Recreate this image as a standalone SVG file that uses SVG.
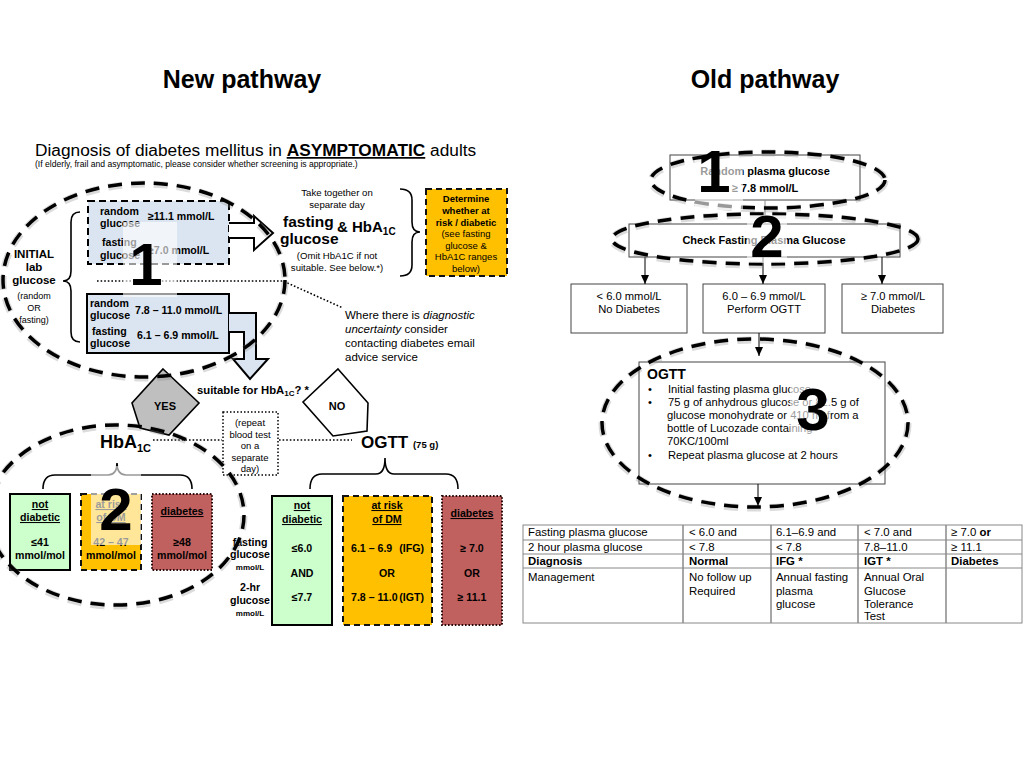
<svg xmlns="http://www.w3.org/2000/svg" width="1024" height="768" viewBox="0 0 1024 768">
<defs>
<marker id="ah" markerWidth="9" markerHeight="8" refX="9" refY="4" orient="auto" markerUnits="userSpaceOnUse"><path d="M0,0 L9,4 L0,8 z" fill="#000"/></marker>
<style>
text{font-family:"Liberation Sans",Arial,Helvetica,sans-serif;fill:#000}
.b{font-weight:bold}
.c{text-anchor:middle}
.e{text-anchor:end}
.u{text-decoration:underline}
.s{font-size:10.6px;font-weight:bold}
.blue{fill:#dbe5f1;stroke:#000;stroke-width:2}
.ring{fill:none;stroke:#000;stroke-width:3.5;stroke-dasharray:14 9}
.halo{fill:none;stroke:#888;stroke-width:7;stroke-dasharray:14 9;opacity:.3}
.dot{fill:none;stroke:#000;stroke-width:1.6;stroke-dasharray:1.6 2}
.brace{fill:none;stroke:#000;stroke-width:1.6}
.grn{fill:#ccffcc;stroke:#000;stroke-width:2}
.yel{fill:#ffc000;stroke:#111;stroke-width:2;stroke-dasharray:6 4}
.red{fill:#c0605f;stroke:#2a0a0a;stroke-width:2;stroke-dasharray:1.6 1.8}
.obox{fill:#fff;stroke:#444;stroke-width:1}
.t11{font-size:11.2px}
.big{font-size:60px;font-weight:bold;text-anchor:middle}
.veil{fill:#fff;opacity:.6}
.tb{fill:none;stroke:#888;stroke-width:1}
.tc{font-size:11.4px}
</style>
</defs>
<rect width="1024" height="768" fill="#fff"/>

<g id="title-new"><text x="242" y="88" class="b c" font-size="25">New pathway</text></g>
<g id="title-old"><text x="765" y="88" class="b c" font-size="25">Old pathway</text></g>

<g id="heading">
<text x="35" y="156" font-size="17.3">Diagnosis of diabetes mellitus in <tspan class="b u">ASYMPTOMATIC</tspan> adults</text>
<text x="35" y="167" font-size="8.6" fill="#222">(If elderly, frail and asymptomatic, please consider whether screening is appropriate.)</text>
</g>

<g id="initial-label">
<path class="brace" d="M80,212 Q71,212 71,222 V271 Q71,281 63,281 Q71,281 71,291 V332 Q71,342 80,342"/>
<text x="34" y="258" class="b c" font-size="11.5">INITIAL</text>
<text x="34" y="271" class="b c" font-size="11.5">lab</text>
<text x="34" y="284" class="b c" font-size="11.5">glucose</text>
<text x="34" y="299" class="c" font-size="9" fill="#333">(random</text>
<text x="34" y="311" class="c" font-size="9" fill="#333">OR</text>
<text x="34" y="323" class="c" font-size="9" fill="#333">fasting)</text>
</g>

<g id="box-high">
<rect x="88" y="201" width="141" height="63" class="blue" stroke-dasharray="7 4"/>
<text x="100" y="215" class="s">random</text>
<text x="100" y="227" class="s">glucose</text>
<text x="148" y="220" class="s">≥11.1 mmol/L</text>
<text x="102" y="246" class="s">fasting</text>
<text x="100" y="259" class="s">glucose</text>
<text x="148" y="254" class="s">≥7.0 mmol/L</text>
</g>

<g id="box-mid">
<rect x="87" y="294" width="142" height="59" class="blue"/>
<text x="90" y="307" class="s">random</text>
<text x="90" y="319" class="s">glucose</text>
<text x="135" y="314" class="s">7.8 – 11.0 mmol/L</text>
<text x="92" y="335" class="s">fasting</text>
<text x="90" y="347" class="s">glucose</text>
<text x="137" y="339" class="s">6.1 – 6.9 mmol/L</text>
</g>

<g id="fasting-hba1c">
<text x="337" y="196" class="c" font-size="9.6" fill="#222">Take together on</text>
<text x="337" y="208" class="c" font-size="9.6" fill="#222">separate day</text>
<text x="283" y="227" class="b" font-size="15.5">fasting</text>
<text x="337" y="232" class="b" font-size="15">&amp; HbA<tspan font-size="10" dy="3">1C</tspan></text>
<text x="280" y="244" class="b" font-size="15.5">glucose</text>
<text x="337" y="259" class="c" font-size="9.6" fill="#222">(Omit HbA1C if not</text>
<text x="337" y="271" class="c" font-size="9.6" fill="#222">suitable. See below.*)</text>
<path class="brace" d="M400,189 Q412,189 412,200 V222 Q412,232 420,232 Q412,232 412,242 V265 Q412,276 400,276"/>
</g>

<g id="determine">
<rect x="426" y="189" width="81" height="87" class="yel"/>
<text x="466" y="202" class="b c" font-size="9.5">Determine</text>
<text x="466" y="214" class="b c" font-size="9.5">whether at</text>
<text x="466" y="226" class="b c" font-size="9.5">risk / diabetic</text>
<text x="466" y="237" class="c" font-size="9.5">(see fasting</text>
<text x="466" y="249" class="c" font-size="9.5">glucose &amp;</text>
<text x="466" y="260" class="c" font-size="9.5">HbA1C ranges</text>
<text x="466" y="272" class="c" font-size="9.5">below)</text>
</g>

<g id="advice">
<text x="345" y="319" font-size="11.5" fill="#222">Where there is <tspan font-style="italic">diagnostic</tspan></text>
<text x="345" y="333" font-size="11.5" fill="#222"><tspan font-style="italic">uncertainty</tspan> consider</text>
<text x="345" y="347" font-size="11.5" fill="#222">contacting diabetes email</text>
<text x="345" y="361" font-size="11.5" fill="#222">advice service</text>
</g>

<g id="suitable"><text x="197" y="394" class="b" font-size="11.3">suitable for HbA<tspan font-size="8" dy="2">1C</tspan><tspan dy="-2">? *</tspan></text></g>

<g id="yes">
<polygon points="163,369 199,403 169,435 140,428 132,403" fill="#bfbfbf" stroke="#000" stroke-width="1.6"/>
<text x="165" y="410" class="b c" font-size="11">YES</text>
</g>
<g id="no">
<polygon points="338,369 368,403 367,431 333,436 303,402" fill="#fff" stroke="#000" stroke-width="1.6"/>
<text x="337" y="410" class="b c" font-size="11">NO</text>
</g>

<g id="repeat">
<rect x="223" y="412" width="55" height="63" fill="#fff" stroke="#000" stroke-width="1.5" stroke-dasharray="1.5 2"/>
<text x="250" y="426" class="c" font-size="9.5" fill="#222">(repeat</text>
<text x="250" y="438" class="c" font-size="9.5" fill="#222">blood test</text>
<text x="250" y="449" class="c" font-size="9.5" fill="#222">on a</text>
<text x="250" y="461" class="c" font-size="9.5" fill="#222">separate</text>
<text x="250" y="472" class="c" font-size="9.5" fill="#222">day)</text>
</g>

<g id="hba1c-head">
<text x="100" y="448" class="b" font-size="18">HbA<tspan font-size="11" dy="4">1C</tspan></text>
<path class="brace" d="M43,489 Q43,475 55,475 H108 Q117,475 117,463 Q117,475 126,475 H180 Q192,475 192,489"/>
</g>
<g id="ogtt-head">
<text x="361" y="448" class="b" font-size="17">OGTT <tspan font-size="9.5">(75 g)</tspan></text>
<path class="brace" d="M310,489 Q310,474 322,474 H376 Q385,474 385,458 Q385,474 394,474 H446 Q458,474 458,489"/>
</g>

<g id="hba1c-normal">
<rect x="10" y="494" width="60" height="76" class="grn"/>
<text x="40" y="508" class="s c u">not</text>
<text x="40" y="521" class="s c u">diabetic</text>
<text x="40" y="546" class="s c">≤41</text>
<text x="40" y="559" class="s c">mmol/mol</text>
</g>
<g id="hba1c-risk">
<rect x="81" y="494" width="60" height="76" class="yel"/>
<text x="111" y="508" class="s c u">at risk</text>
<text x="111" y="521" class="s c u">of DM</text>
<text x="111" y="546" class="s c">42 – 47</text>
<text x="111" y="559" class="s c">mmol/mol</text>
</g>
<g id="hba1c-diab">
<rect x="152" y="494" width="60" height="76" class="red"/>
<text x="182" y="515" class="s c u" fill="#2a0a0a">diabetes</text>
<text x="182" y="546" class="s c" fill="#2a0a0a">≥48</text>
<text x="182" y="559" class="s c" fill="#2a0a0a">mmol/mol</text>
</g>

<g id="ogtt-labels">
<text x="250" y="546" class="s c">fasting</text>
<text x="250" y="558" class="s c">glucose</text>
<text x="250" y="570" class="b c" font-size="8">mmol/L</text>
<text x="250" y="591" class="s c">2-hr</text>
<text x="250" y="604" class="s c">glucose</text>
<text x="250" y="616" class="b c" font-size="8">mmol/L</text>
</g>
<g id="ogtt-normal">
<rect x="272" y="496" width="60" height="129" class="grn"/>
<text x="302" y="509" class="s c u">not</text>
<text x="302" y="523" class="s c u">diabetic</text>
<text x="302" y="552" class="s c">≤6.0</text>
<text x="302" y="577" class="s c">AND</text>
<text x="302" y="601" class="s c">≤7.7</text>
</g>
<g id="ogtt-risk">
<rect x="343" y="496" width="89" height="129" class="yel"/>
<text x="387" y="509" class="s c u">at risk</text>
<text x="387" y="523" class="s c u">of DM</text>
<text x="351" y="552" class="s">6.1 – 6.9</text>
<text x="424" y="552" class="s e">(IFG)</text>
<text x="387" y="577" class="s c">OR</text>
<text x="351" y="601" class="s">7.8 – 11.0</text>
<text x="424" y="601" class="s e">(IGT)</text>
</g>
<g id="ogtt-diab">
<rect x="442" y="496" width="60" height="129" class="red"/>
<text x="472" y="517" class="s c u" fill="#2a0a0a">diabetes</text>
<text x="472" y="552" class="s c" fill="#2a0a0a">≥ 7.0</text>
<text x="472" y="577" class="s c" fill="#2a0a0a">OR</text>
<text x="472" y="601" class="s c" fill="#2a0a0a">≥ 11.1</text>
</g>

<!-- old pathway -->
<g id="random-pg">
<rect x="670" y="155" width="190" height="45" class="obox"/>
<text x="765" y="175" class="b c" font-size="11">Random plasma glucose</text>
<text x="765" y="192" class="b c" font-size="11">≥ 7.8 mmol/L</text>
</g>
<g id="check-fpg">
<rect x="629" y="224" width="271" height="33" class="obox"/>
<text x="764" y="244" class="b c" font-size="11">Check Fasting Plasma Glucose</text>
</g>
<g id="no-diab">
<rect x="571" y="284" width="116" height="49" class="obox"/>
<text x="629" y="300" class="c t11">&lt; 6.0 mmol/L</text>
<text x="629" y="313" class="c t11">No Diabetes</text>
</g>
<g id="perform-ogtt">
<rect x="703" y="284" width="122" height="49" class="obox"/>
<text x="764" y="300" class="c t11">6.0 – 6.9 mmol/L</text>
<text x="764" y="313" class="c t11">Perform OGTT</text>
</g>
<g id="diab">
<rect x="842" y="284" width="101" height="49" class="obox"/>
<text x="893" y="300" class="c t11">≥ 7.0 mmol/L</text>
<text x="893" y="313" class="c t11">Diabetes</text>
</g>
<g id="ogtt-box">
<rect x="639" y="362" width="246" height="122" class="obox"/>
<text x="647" y="379" class="b" font-size="14">OGTT</text>
<text x="648" y="393" class="t11">•</text>
<text x="668" y="393" class="t11">Initial fasting plasma glucose</text>
<text x="648" y="406" class="t11">•</text>
<text x="668" y="406" class="t11">75 g of anhydrous glucose or 82.5 g of</text>
<text x="667" y="419" class="t11">glucose monohydrate or 410 ml from a</text>
<text x="667" y="432" class="t11">bottle of Lucozade containing</text>
<text x="667" y="445" class="t11">70KC/100ml</text>
<text x="648" y="459" class="t11">•</text>
<text x="668" y="459" class="t11">Repeat plasma glucose at 2 hours</text>
</g>

<g id="table">
<rect x="523" y="525" width="499" height="98" class="tb"/>
<line x1="523" y1="540" x2="1022" y2="540" class="tb"/>
<line x1="523" y1="554" x2="1022" y2="554" class="tb"/>
<line x1="523" y1="568" x2="1022" y2="568" class="tb"/>
<line x1="683" y1="525" x2="683" y2="623" stroke="#888" stroke-width="1.5"/>
<line x1="771" y1="525" x2="771" y2="623" stroke="#888" stroke-width="1.5"/>
<line x1="858" y1="525" x2="858" y2="623" stroke="#888" stroke-width="1.5"/>
<line x1="946" y1="525" x2="946" y2="623" stroke="#888" stroke-width="1.5"/>
<text x="528" y="536" class="tc">Fasting plasma glucose</text>
<text x="689" y="536" class="tc">&lt; 6.0 and</text>
<text x="776" y="536" class="tc">6.1–6.9 and</text>
<text x="864" y="536" class="tc">&lt; 7.0 and</text>
<text x="951" y="536" class="tc">≥ 7.0 <tspan class="b">or</tspan></text>
<text x="528" y="551" class="tc">2 hour plasma glucose</text>
<text x="689" y="551" class="tc">&lt; 7.8</text>
<text x="776" y="551" class="tc">&lt; 7.8</text>
<text x="864" y="551" class="tc">7.8–11.0</text>
<text x="951" y="551" class="tc">≥ 11.1</text>
<text x="528" y="565" class="tc b">Diagnosis</text>
<text x="689" y="565" class="tc b">Normal</text>
<text x="776" y="565" class="tc b">IFG *</text>
<text x="864" y="565" class="tc b">IGT *</text>
<text x="951" y="565" class="tc b">Diabetes</text>
<text x="528" y="581" class="tc">Management</text>
<text x="689" y="581" class="tc">No follow up</text>
<text x="689" y="595" class="tc">Required</text>
<text x="776" y="581" class="tc">Annual fasting</text>
<text x="776" y="595" class="tc">plasma</text>
<text x="776" y="608" class="tc">glucose</text>
<text x="864" y="581" class="tc">Annual Oral</text>
<text x="864" y="595" class="tc">Glucose</text>
<text x="864" y="608" class="tc">Tolerance</text>
<text x="864" y="620" class="tc">Test</text>
</g>

<g id="connectors">
<path d="M229,223 H254 V216 L273,233 L254,250 V238 H229" fill="#fff" stroke="#000" stroke-width="2"/>
<path d="M229,313 H256 V359 H268 L250,379 L233,359 H244 V332 H229" fill="#dbe5f1" stroke="#000" stroke-width="2"/>
<path class="dot" d="M97,281 H283 L343,308"/>
<path class="dot" d="M153,440 H222"/>
<path class="dot" d="M279,440 H352"/>
<line x1="765" y1="200" x2="765" y2="224" stroke="#888" stroke-width="1"/>
<line x1="645" y1="257" x2="645" y2="284" stroke="#000" stroke-width="1" marker-end="url(#ah)"/>
<line x1="763" y1="257" x2="763" y2="284" stroke="#000" stroke-width="1" marker-end="url(#ah)"/>
<line x1="882" y1="257" x2="882" y2="284" stroke="#000" stroke-width="1" marker-end="url(#ah)"/>
<line x1="759" y1="333" x2="759" y2="356" stroke="#000" stroke-width="1" marker-end="url(#ah)"/>
<line x1="758" y1="484" x2="758" y2="506" stroke="#000" stroke-width="1" marker-end="url(#ah)"/>
</g>

<g id="highlights">
<ellipse cx="144" cy="281" rx="141" ry="97" class="halo"/>
<ellipse cx="144" cy="280" rx="141" ry="97" class="ring"/>
<ellipse cx="116" cy="516" rx="128" ry="90" class="halo"/>
<ellipse cx="116" cy="515" rx="128" ry="90" class="ring"/>
<ellipse cx="768" cy="181" rx="117" ry="28" class="halo"/>
<ellipse cx="768" cy="180" rx="117" ry="28" class="ring"/>
<ellipse cx="765" cy="240" rx="153" ry="25" class="halo"/>
<ellipse cx="765" cy="239" rx="153" ry="25" class="ring"/>
<ellipse cx="755" cy="424" rx="153" ry="84" class="halo"/>
<ellipse cx="755" cy="423" rx="153" ry="84" class="ring"/>
</g>

<g id="numbers">
<rect x="123" y="222" width="54" height="75" class="veil"/>
<rect x="91" y="466" width="50" height="79" class="veil"/>
<rect x="695" y="160" width="48" height="50" class="veil"/>
<rect x="747" y="215" width="40" height="48" class="veil"/>
<rect x="790" y="387" width="40" height="53" class="veil"/>
<text x="146" y="285" class="big" font-size="63">1</text>
<text x="116" y="530" class="big" font-size="60">2</text>
<text x="714" y="192" class="big" font-size="56">1</text>
<text x="767" y="257" class="big" font-size="55">2</text>
<text x="813" y="430" class="big" font-size="60">3</text>
</g>
</svg>
